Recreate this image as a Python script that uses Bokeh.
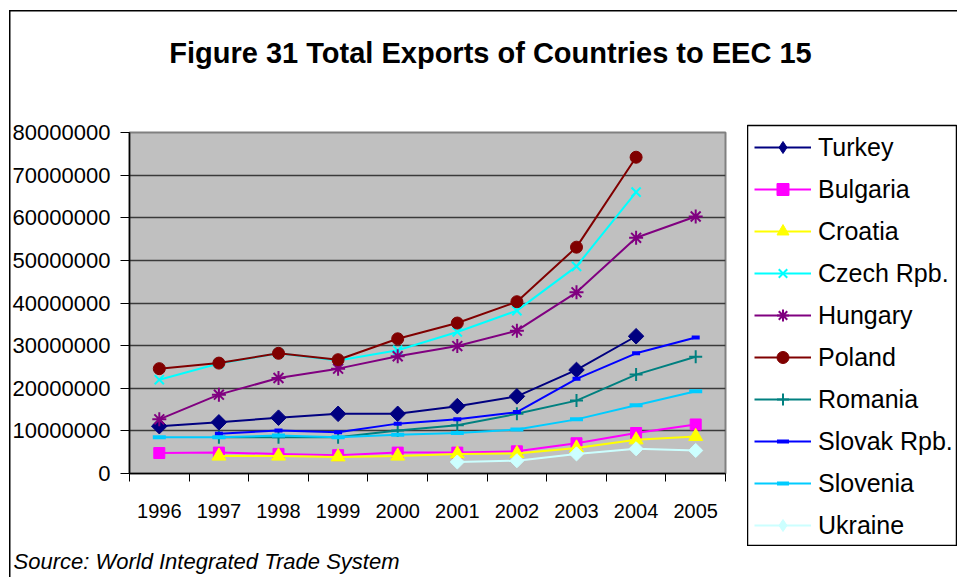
import math
from bokeh.plotting import figure
from bokeh.layouts import column, row
from bokeh.models import FixedTicker, Legend, LegendItem, Label, ColumnDataSource, Range1d
from bokeh.embed import file_html
from bokeh.resources import INLINE

nan = float("nan")

years = ["1996", "1997", "1998", "1999", "2000", "2001", "2002", "2003", "2004", "2005"]

turkey   = [11100000, 12000000, 13100000, 14000000, 14000000, 15800000, 18100000, 24300000, 32200000, nan]
bulgaria = [4800000, 4900000, 4600000, 4300000, 4900000, 4900000, 5200000, 7100000, 9500000, 11500000]
croatia  = [nan, 4100000, 4100000, 3900000, 4100000, 4600000, 4700000, 6000000, 7900000, 8700000]
czech    = [22000000, 25800000, 28200000, 26500000, 28900000, 33200000, 38200000, 48600000, 66000000, nan]
hungary  = [12700000, 18500000, 22400000, 24600000, 27500000, 29900000, 33500000, 42500000, 55300000, 60300000]
poland   = [24600000, 25900000, 28200000, 26700000, 31600000, 35300000, 40300000, 53100000, 74200000, nan]
romania  = [nan, 8500000, 8500000, 8500000, 10100000, 11300000, 14000000, 17100000, 23200000, 27400000]
slovak   = [nan, 9300000, 10100000, 9700000, 11700000, 12700000, 14400000, 22200000, 28200000, 31900000]
slovenia = [8500000, 8500000, 8900000, 8500000, 9100000, 9500000, 10300000, 12700000, 16000000, 19300000]
ukraine  = [nan, nan, nan, nan, nan, 2700000, 3000000, 4600000, 5800000, 5400000]

y_ticks = [0, 10000000, 20000000, 30000000, 40000000, 50000000, 60000000, 70000000, 80000000]

title_text = "Figure 31 Total Exports of Countries to EEC 15"
source_text = "Source: World Integrated Trade System"

# name, values, colour, marker, size, marker line width, angle
series = [
    ("Turkey", turkey, "#000080", "square", 11, 1, math.pi / 4),
    ("Bulgaria", bulgaria, "#FF00FF", "square", 11, 1, 0),
    ("Croatia", croatia, "#FFFF00", "triangle", 14, 1, 0),
    ("Czech Rpb.", czech, "#00FFFF", "x", 13, 2, 0),
    ("Hungary", hungary, "#800080", "asterisk", 14, 2, 0),
    ("Poland", poland, "#800000", "circle", 12, 1, 0),
    ("Romania", romania, "#008080", "cross", 13, 2, 0),
    ("Slovak Rpb.", slovak, "#0000FF", "dash", 8, 4, 0),
    ("Slovenia", slovenia, "#00CCFF", "dash", 13, 4, 0),
    ("Ukraine", ukraine, "#CCFFFF", "square", 10, 1, math.pi / 4),
]

FONT = "'Liberation Sans', Arial, sans-serif"
W, H = 957, 577
HEAD_H, BODY_H = 100, 446
FOOT_H = H - HEAD_H - BODY_H
MAIN_W = 747
LEG_W = W - MAIN_W


def bare(fig):
    fig.border_fill_color = None
    fig.background_fill_color = None
    fig.outline_line_color = None
    fig.grid.visible = False
    return fig


# ---- header with title
head = bare(figure(width=W, height=HEAD_H, output_backend="svg", toolbar_location=None,
                   title=None, x_range=Range1d(0, W), y_range=Range1d(HEAD_H, 0),
                   x_axis_type=None, y_axis_type=None,
                   min_border_left=0, min_border_right=0, min_border_top=0, min_border_bottom=0))
head.frame_align = False
head.add_layout(Label(x=490, y=52, text=title_text, text_font=FONT, text_font_size="29px",
                      text_font_style="bold", text_align="center",
                      text_baseline="alphabetic", text_color="black"))

# ---- main chart
p = figure(width=MAIN_W, height=BODY_H, output_backend="svg", toolbar_location=None,
           title=None, x_range=(0, 10), y_range=(0, 80000000),
           min_border_left=129, min_border_right=MAIN_W - 725, min_border_top=132 - HEAD_H,
           min_border_bottom=HEAD_H + BODY_H - 473)
p.frame_align = False
p.background_fill_color = "#C0C0C0"
p.border_fill_color = None
p.outline_line_color = "#808080"
p.outline_line_width = 2

xs = [i + 0.5 for i in range(len(years))]

# ---- legend panel (its ranges keep the series out of view; only the legend shows)
lf = figure(width=LEG_W, height=BODY_H, output_backend="svg", toolbar_location=None,
            title=None, x_range=(100, 101), y_range=(-2, -1),
            x_axis_type=None, y_axis_type=None,
            min_border_left=0, min_border_right=1, min_border_top=125 - HEAD_H,
            min_border_bottom=HEAD_H + BODY_H - 545)
lf.frame_align = False
lf.grid.visible = False
lf.border_fill_color = None
lf.background_fill_color = "white"
lf.outline_line_color = "black"
lf.outline_line_width = 1.5

items = []
for name, vals, color, marker, size, lw, ang in series:
    src = ColumnDataSource(dict(x=xs, y=vals))
    p.line("x", "y", source=src, line_color=color, line_width=2)
    l1 = lf.line("x", "y", source=src, line_color=color, line_width=2)
    if marker in ("dash", "cross", "x", "asterisk"):
        kw = dict(marker=marker, size=size, line_color=color, line_width=lw)
        lkw = kw
    else:
        kw = dict(marker=marker, size=size, angle=ang, fill_color=color,
                  line_color=color, line_width=lw)
        lkw = dict(kw)
        if ang:
            lkw = dict(marker="diamond", size=size + 5, fill_color=color,
                       line_color=color, line_width=lw)
    p.scatter("x", "y", source=src, **kw)
    l2 = lf.scatter("x", "y", source=src, **lkw)
    items.append(LegendItem(label=name, renderers=[l1, l2], index=0))

legend = Legend(items=items, location="top_left",
                label_text_font=FONT, label_text_font_size="25px",
                label_text_color="black",
                glyph_width=57, glyph_height=30, label_height=30,
                label_standoff=7, spacing=12, padding=3, margin=7,
                border_line_color=None, background_fill_alpha=0)
lf.add_layout(legend, "center")

# axes
p.xaxis.ticker = FixedTicker(ticks=xs, minor_ticks=list(range(0, 11)))
p.xaxis.major_label_overrides = {x: y for x, y in zip(xs, years)}
p.xaxis.major_tick_in = 0
p.xaxis.major_tick_out = 0
p.xaxis.minor_tick_in = 0
p.xaxis.minor_tick_out = 8
p.xaxis.minor_tick_line_color = "black"
p.xaxis.major_label_standoff = 22
p.xaxis.major_label_text_font = FONT
p.xaxis.major_label_text_font_size = "20px"
p.xaxis.major_label_text_color = "black"
p.xaxis.axis_line_color = "black"
p.xaxis.axis_line_width = 1.5

p.yaxis.ticker = FixedTicker(ticks=y_ticks)
p.yaxis.major_label_overrides = {v: str(v) for v in y_ticks}
p.yaxis.major_tick_in = 0
p.yaxis.major_tick_out = 9
p.yaxis.minor_tick_line_color = None
p.yaxis.major_tick_line_color = "black"
p.yaxis.major_label_standoff = 10
p.yaxis.major_label_text_font = FONT
p.yaxis.major_label_text_font_size = "22px"
p.yaxis.major_label_text_color = "black"
p.yaxis.axis_line_color = "black"
p.yaxis.axis_line_width = 1.5

p.xgrid.grid_line_color = None
p.ygrid.ticker = FixedTicker(ticks=y_ticks)
p.ygrid.grid_line_color = "#3a3a3a"
p.ygrid.grid_line_width = 1.5

# ---- footer with source
foot = bare(figure(width=W, height=FOOT_H, output_backend="svg", toolbar_location=None,
                   title=None, x_range=Range1d(0, W), y_range=Range1d(FOOT_H, 0),
                   x_axis_type=None, y_axis_type=None,
                   min_border_left=0, min_border_right=0, min_border_top=0, min_border_bottom=0))
foot.frame_align = False
foot.add_layout(Label(x=13, y=15, text=source_text, text_font=FONT,
                      text_font_size="22px", text_font_style="italic", text_align="left",
                      text_baseline="alphabetic", text_color="black"))

layout = column(head, row(p, lf, spacing=0), foot, spacing=0)
layout.styles = {
    "background": "linear-gradient(#000,#000) 9px 10px / 1.5px 100% no-repeat, "
                  "linear-gradient(#000,#000) 9px 10px / 100% 1.5px no-repeat, #ffffff"
}

open("out.html", "w").write(file_html(layout, INLINE))
